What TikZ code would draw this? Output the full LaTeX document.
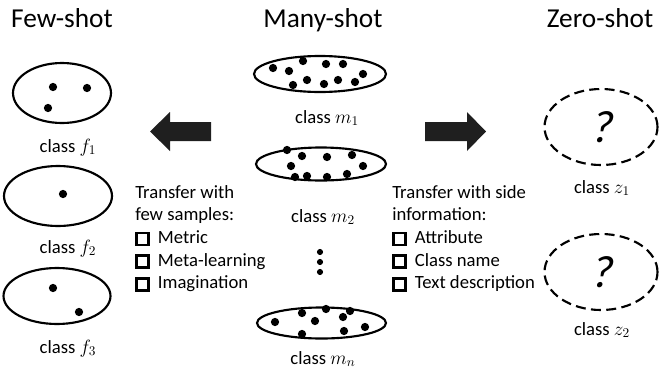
\documentclass[tikz,border=0pt]{standalone}
\usepackage{fontspec}
\setmainfont{Carlito}
\newfontfamily\slantfont{Carlito}[FakeSlant=0.2]
\usetikzlibrary{shapes.geometric,positioning}

\newcommand{\chk}{\raisebox{0pt}{\setlength{\fboxrule}{2pt}\setlength{\fboxsep}{0pt}\fbox{\rule{0pt}{7pt}\hspace{7pt}}}\hspace{6pt}}

\tikzset{
  cls/.style={draw, ellipse, line width=1.6pt, inner sep=0pt},
  zcls/.style={cls, dash pattern=on 7.5pt off 4pt, font=\fontsize{34}{36}\slantfont},
  lbl/.style={anchor=base, font=\fontsize{14}{16}\selectfont},
  ttl/.style={anchor=base, font=\fontsize{20.5}{24}\selectfont},
  txt/.style={anchor=north west, inner sep=0pt, align=left, font=\fontsize{14}{17}\selectfont},
  blk/.style={fill=black!88}
}

\begin{document}
\begin{tikzpicture}[x=0.75pt, y=-0.75pt]
    \useasboundingbox (0,0) rectangle (665,372);

    % Titles
    \node[ttl] (few)  at (62, 27)  {Few-shot};
    \node[ttl] (many) at (323, 27) {Many-shot};
    \node[ttl] (zero) at (600, 27) {Zero-shot};

    % Few-shot classes
    \node[cls, minimum width=73.5pt, minimum height=45pt] (f1) at (62, 93) {};
    \node[cls, minimum width=81pt, minimum height=45pt] (f2) at (58, 196) {};
    \node[cls, minimum width=80.25pt, minimum height=42pt] (f3) at (57, 296) {};
    \foreach \p in {(53,87), (87,88), (48,108), (63,194), (53,288), (79,312)}
        \fill \p circle (3.1pt);
    \node[lbl] (f1l) at (68, 152) {class $f_1$};
    \node[lbl] (f2l) at (68, 253) {class $f_2$};
    \node[lbl] (f3l) at (68, 353) {class $f_3$};

    % Many-shot classes
    \node[cls, minimum width=99pt, minimum height=27pt] (m1) at (320, 74) {};
    \node[cls, minimum width=97.5pt, minimum height=24.75pt] (m2) at (321, 164) {};
    \node[cls, minimum width=96.75pt, minimum height=23.25pt] (mn) at (321.5, 323) {};
    \foreach \p in {(273,68), (289,71), (303,61), (326,64), (343,64), (363,74),
                    (355,82), (338,80), (324,84), (307,80), (293,85)}
        \fill \p circle (3.1pt);
    \foreach \p in {(287,150), (302,156), (327,157), (352,155), (291,166),
                    (363,166), (295,177), (307,176), (327,177), (347,174)}
        \fill \p circle (3.1pt);
    \foreach \p in {(275,322), (302,313), (326,309), (350,311), (315,321),
                    (343,317), (302,334), (344,331), (365,327)}
        \fill \p circle (3.1pt);
    \foreach \y in {252, 262, 272}
        \fill (320, \y) circle (2.3pt);
    \node[lbl] (m1l) at (327, 123) {class $m_1$};
    \node[lbl] (m2l) at (323, 222) {class $m_2$};
    \node[lbl] (mnl) at (323, 364) {class $m_n$};

    % Zero-shot classes
    \node[zcls, minimum width=84.75pt, minimum height=57pt] (z1) at (601, 127) {?};
    \node[zcls, minimum width=84.75pt, minimum height=57pt] (z2) at (601, 272) {?};
    \node[lbl] (z1l) at (602, 193) {class $z_1$};
    \node[lbl] (z2l) at (602, 335) {class $z_2$};

    % Block arrows
    \fill[blk] (211,122) -- (170,122) -- (170,112) -- (150,131.5) -- (170,151) -- (170,141) -- (211,141) -- cycle;
    \fill[blk] (425,122) -- (467,122) -- (467,112) -- (486,131.5) -- (467,151) -- (467,141) -- (425,141) -- cycle;

    % Transfer methods
    \node[txt] (fewtxt) at (135, 185) {Transfer with\\few samples:\\\chk Metric\\\chk Meta-learning\\\chk Imagination};
    \node[txt] (zerotxt) at (392, 185) {Transfer with side\\information:\\\chk Attribute\\\chk Class name\\\chk Text description};
\end{tikzpicture}
\end{document}
